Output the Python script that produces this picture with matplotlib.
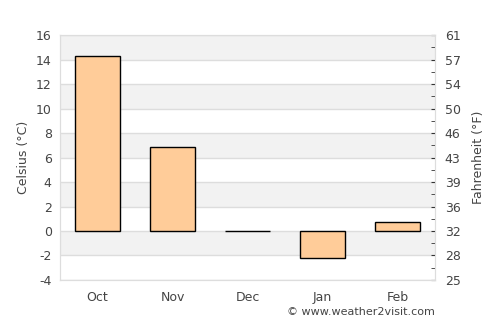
import matplotlib
matplotlib.use("Agg")
import matplotlib.pyplot as plt
import numpy as np

plt.rcParams["axes.unicode_minus"] = False

months = ["Oct", "Nov", "Dec", "Jan", "Feb"]
celsius = [14.3, 6.9, 0.0, -2.2, 0.7]
c_ticks = [-4, -2, 0, 2, 4, 6, 8, 10, 12, 14, 16]
f_labels = ["25", "28", "32", "36", "39", "43", "46", "50", "54", "57", "61"]

text_col = "#444444"
grid_col = "#dddddd"

fig = plt.figure(figsize=(5, 3.25), dpi=100)
ax = fig.add_axes([0.12, 0.1385, 0.75, 0.7535])

# alternating background bands
for lo in range(-2, 16, 4):
    ax.axhspan(lo, lo + 2, color="#f2f2f2", zorder=0, lw=0)
for y in c_ticks:
    ax.axhline(y, color=grid_col, lw=1, zorder=1)

x = np.arange(len(months))
ax.bar(x, celsius, width=0.6, color="#ffcc99", edgecolor="black", linewidth=1, zorder=3)

ax.set_xlim(-0.5, len(months) - 0.5)
ax.set_ylim(-4, 16)
ax.set_yticks(c_ticks)
ax.set_xticks(x)
ax.set_xticklabels(months)
ax.tick_params(axis="both", length=0, colors=text_col, labelsize=9, pad=8)
ax.tick_params(axis="y", pad=6)
ax.set_ylabel("Celsius (°C)", color=text_col, fontsize=9)
for s in ax.spines.values():
    s.set_color(grid_col)

ax2 = ax.twinx()
ax2.set_ylim(-4, 16)
ax2.set_yticks(c_ticks)
ax2.set_yticklabels(f_labels)
ax2.set_yticks(np.arange(-3, 16, 2), minor=True)
ax2.tick_params(axis="y", which="both", direction="in", length=3, color="#333333")
ax2.tick_params(axis="y", which="major", labelcolor=text_col, labelsize=9, pad=7)
ax2.set_ylabel("Fahrenheit (°F)", color=text_col, fontsize=9, labelpad=8)
for s in ax2.spines.values():
    s.set_color(grid_col)

fig.text(0.87, 0.025, "© www.weather2visit.com", ha="right", va="bottom",
         fontsize=8, color=text_col)

fig.savefig("out.png", dpi=100)
